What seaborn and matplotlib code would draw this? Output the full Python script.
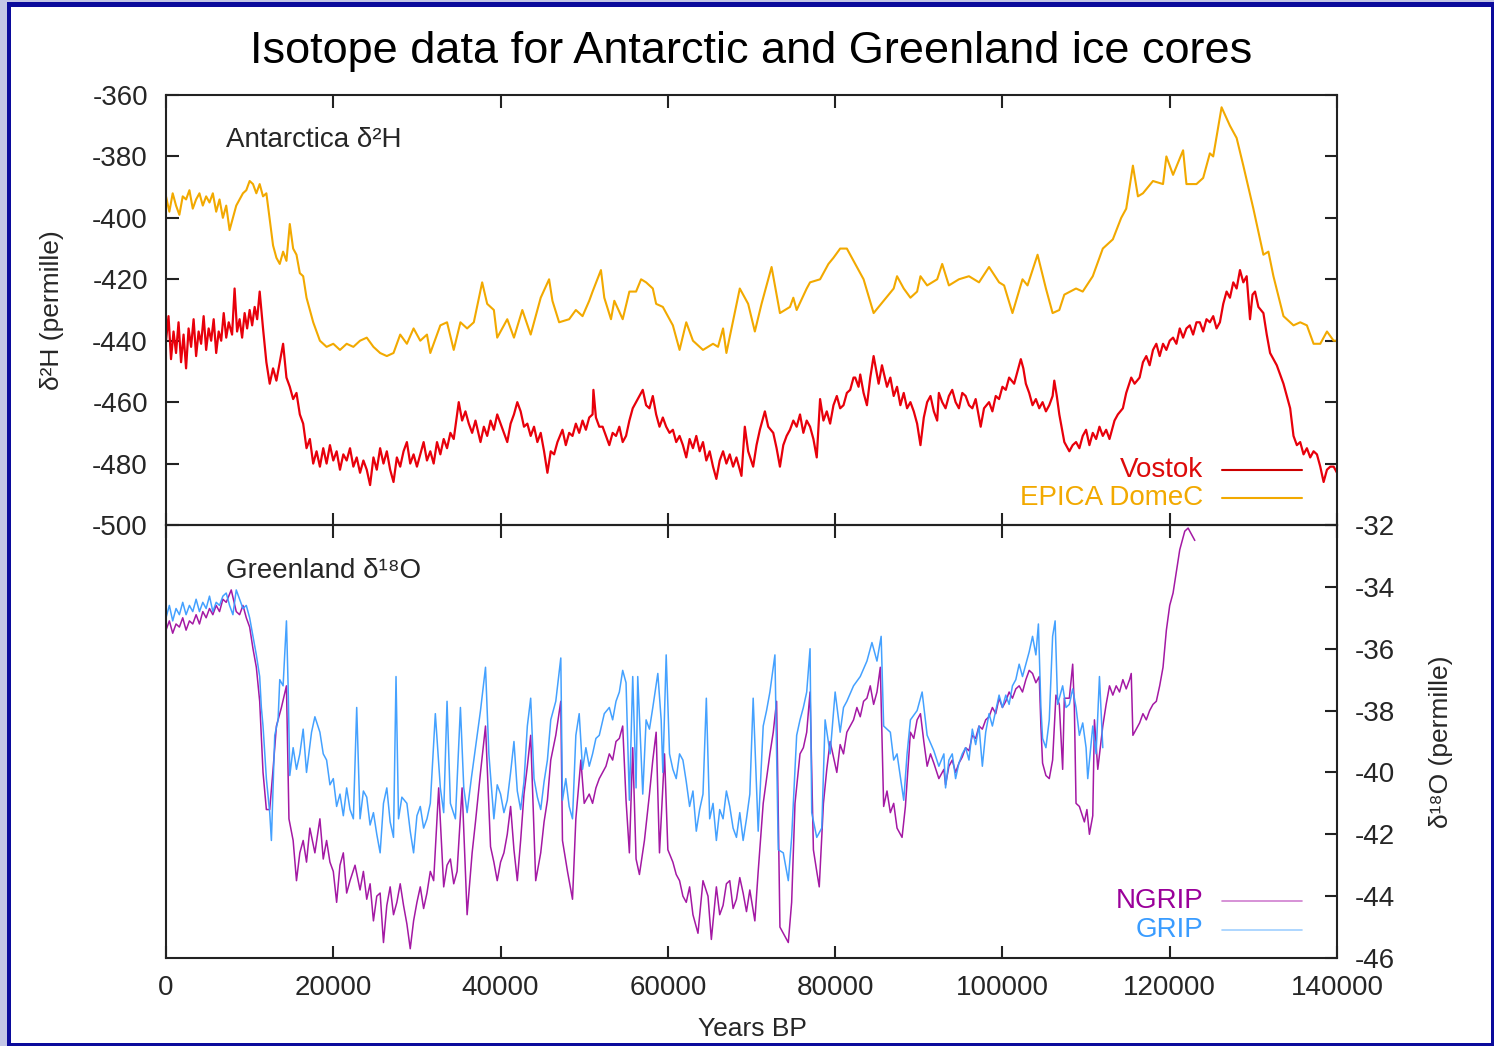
import matplotlib
matplotlib.use("Agg")
import matplotlib.pyplot as plt
from matplotlib.patches import Rectangle
from matplotlib.lines import Line2D
import seaborn as sns
import pandas as pd

# ---------------- data ----------------
epica_years = [0,400,800,1200,1600,2000,2400,2800,3200,3600,4000,4400,4800,5200,5600,6000,6400,6800,7200,7600,8000,8400,8800,9200,9600,10000,10400,10800,11200,11600,12000,12800,13200,13600,14000,14400,14800,15200,15600,16000,16400,16800,17600,18400,19200,20000,20800,21600,22400,23200,24000,24800,25600,26400,27200,28000,28800,29600,30400,31200,31600,32800,33600,34400,35200,36000,36800,37800,38400,39200,39600,40800,41600,42600,43600,44800,45800,46200,47000,48200,49000,49800,50600,51000,52000,52400,53200,53600,54600,55400,56200,56800,57400,58200,58600,59400,60600,61400,62200,63000,64200,65400,66000,66600,67000,68600,69600,70400,71200,72400,73400,74600,75000,75400,76600,77000,78200,79200,79800,80600,81400,82600,83400,84600,85800,87000,87400,88200,89000,89800,90200,91000,92200,92800,93600,94800,96000,97200,98400,99600,100200,101200,102400,103000,104200,105200,106000,106800,107400,108800,109600,110800,112000,113200,114200,114800,115200,115600,116200,116800,118000,119200,119600,120400,121600,122000,123200,124000,124800,125200,126200,127200,128000,128800,130000,131200,131800,132400,133600,134800,135600,136400,137200,138000,138800,139600,140000]
epica_vals = [-393,-398,-392,-396,-399,-393,-394,-391,-397,-394,-392,-396,-393,-395,-392,-398,-394,-400,-396,-404,-400,-396,-394,-392,-391,-388,-389,-392,-389,-393,-392,-409,-413,-415,-411,-414,-402,-410,-412,-418,-419,-426,-434,-440,-442,-441,-443,-441,-442,-440,-439,-442,-444,-445,-444,-438,-441,-436,-440,-438,-444,-435,-434,-443,-434,-436,-434,-421,-428,-430,-439,-433,-439,-430,-438,-426,-420,-427,-434,-433,-430,-432,-427,-424,-417,-426,-433,-427,-433,-424,-424,-420,-421,-423,-428,-429,-435,-443,-434,-440,-443,-441,-442,-436,-444,-423,-428,-437,-428,-416,-431,-429,-426,-430,-423,-421,-420,-415,-413,-410,-410,-416,-420,-431,-427,-423,-419,-423,-426,-424,-419,-422,-420,-415,-422,-420,-419,-421,-416,-421,-422,-431,-420,-422,-412,-423,-431,-430,-425,-423,-424,-419,-410,-407,-400,-397,-390,-383,-393,-392,-388,-389,-380,-386,-378,-389,-389,-387,-379,-380,-364,-370,-374,-383,-397,-412,-411,-419,-432,-435,-434,-435,-441,-441,-437,-440,-440]

vostok_years = [0,300,600,900,1200,1500,1800,2100,2400,2700,3000,3300,3600,3900,4200,4500,4800,5100,5400,5700,6000,6300,6600,6900,7200,7500,7900,8200,8500,8800,9100,9400,9700,10000,10300,10600,10900,11200,11600,12000,12400,12800,13200,13600,14000,14400,14800,15200,15600,16000,16400,16800,17200,17600,18000,18400,18800,19200,19600,20000,20400,20800,21200,21600,22000,22400,22800,23200,23600,24000,24400,24800,25200,25600,26000,26400,26800,27200,27600,28000,28400,28800,29200,29600,30000,30400,30800,31200,31600,32000,32400,32800,33200,33600,34000,34400,35000,35400,35800,36200,36600,37000,37600,38000,38400,38800,39200,39600,40000,40400,40800,41200,41600,42000,42400,42800,43200,43600,44000,44400,44800,45200,45600,46000,46400,46800,47400,47800,48200,48600,49000,49400,49800,50200,50600,51000,51100,51400,51800,52200,52600,53000,53400,53800,54200,54600,55000,55400,55800,56200,56600,57000,57400,57800,58200,58600,59000,59400,59800,60200,60600,61000,61400,61800,62200,62600,63000,63400,63800,64200,64600,65000,65400,65800,66200,66600,67000,67400,67800,68200,68800,69200,69600,70200,70600,71000,71600,72000,72600,73000,73400,73800,74200,74600,75000,75400,75800,76200,76600,77000,77400,77800,78200,78600,79000,79400,79800,80200,80600,81000,81400,81800,82200,82400,82800,83000,83400,83800,84200,84600,85000,85200,85600,86200,86600,87000,87400,87800,88200,88600,89000,89400,89800,90200,90600,91000,91400,91800,92200,92400,92800,93200,93600,94000,94400,94800,95200,95600,96000,96400,96800,97400,97800,98400,98800,99200,99600,100000,100400,100800,101400,101800,102200,102500,102800,103200,103600,104000,104400,104800,105200,105600,106000,106200,106500,106800,107400,108000,108400,108800,109200,109600,110000,110400,110800,111200,111600,112000,112400,112800,113400,113800,114400,114800,115400,115800,116400,116800,117200,117600,118000,118400,118800,119200,119600,120000,120400,120800,121200,121600,122000,122400,122800,123200,123600,124000,124400,124800,125200,125600,126000,126400,126800,127200,127600,128000,128400,128800,129200,129600,129900,130200,130600,131200,131600,132000,132400,132800,133200,133600,134000,134400,134800,135200,135600,136000,136400,136800,137200,137600,138000,138400,138800,139200,139600,140000]
vostok_vals = [-440,-432,-446,-437,-444,-434,-447,-438,-449,-436,-442,-433,-445,-437,-441,-432,-443,-436,-440,-433,-444,-437,-440,-431,-439,-434,-438,-423,-437,-433,-439,-431,-436,-430,-435,-429,-433,-424,-436,-447,-454,-449,-453,-447,-441,-452,-455,-459,-457,-464,-467,-475,-472,-480,-476,-481,-475,-480,-474,-479,-476,-482,-477,-479,-475,-481,-478,-483,-479,-482,-487,-478,-482,-475,-480,-476,-482,-486,-478,-481,-476,-473,-480,-477,-481,-477,-473,-479,-476,-480,-473,-477,-472,-475,-470,-472,-460,-466,-463,-467,-470,-466,-473,-468,-471,-466,-469,-464,-467,-470,-473,-467,-464,-460,-463,-468,-467,-471,-468,-473,-470,-476,-483,-476,-477,-473,-469,-474,-470,-471,-467,-470,-466,-469,-465,-464,-456,-465,-468,-468,-471,-474,-470,-471,-468,-473,-471,-466,-462,-460,-458,-456,-461,-462,-458,-464,-468,-465,-468,-470,-469,-473,-471,-474,-478,-472,-475,-471,-476,-473,-479,-476,-481,-485,-479,-476,-480,-477,-481,-478,-484,-468,-476,-481,-474,-469,-463,-468,-470,-475,-481,-474,-471,-469,-466,-468,-464,-470,-466,-468,-472,-478,-459,-466,-463,-467,-461,-458,-462,-461,-457,-456,-452,-452,-455,-451,-457,-461,-452,-445,-451,-454,-448,-455,-452,-458,-455,-461,-457,-462,-460,-463,-467,-474,-465,-460,-458,-463,-466,-457,-460,-462,-458,-456,-460,-462,-457,-458,-461,-462,-459,-468,-462,-460,-463,-458,-459,-455,-456,-452,-454,-450,-446,-449,-454,-457,-461,-459,-462,-460,-463,-461,-458,-453,-458,-464,-473,-476,-474,-473,-475,-471,-469,-474,-470,-472,-468,-471,-469,-472,-466,-464,-462,-457,-452,-454,-452,-447,-445,-448,-443,-441,-445,-441,-443,-440,-439,-441,-436,-439,-436,-435,-438,-434,-434,-437,-433,-434,-432,-436,-434,-428,-424,-426,-421,-423,-417,-421,-419,-433,-425,-424,-429,-431,-438,-444,-446,-448,-451,-454,-458,-462,-471,-474,-473,-477,-475,-478,-476,-477,-481,-486,-482,-481,-481,-483]

grip_years = [0,400,800,1200,1600,2000,2400,2800,3200,3600,4000,4400,4800,5200,5600,6000,6400,6800,7200,7600,8000,8400,8800,9200,9600,10000,10400,10800,11200,11400,11600,12000,12400,12600,13000,13400,13600,14000,14400,14600,14800,15200,15600,16000,16400,16800,17400,17800,18400,18800,19200,19600,20000,20400,20800,21200,21600,22000,22400,22800,23200,23600,24000,24400,24800,25200,25600,26000,26400,26800,27200,27500,27800,28200,28800,29200,29600,30000,30400,30800,31200,31600,32200,32800,33200,33600,34000,34600,35200,35600,36000,36500,37000,37600,38200,38600,39200,39600,40000,40400,40800,41200,41600,42000,42400,42800,43200,43600,44000,44400,44800,45200,45600,46000,46600,47200,47400,47800,48200,48600,49000,49400,49800,50200,50600,51000,51400,51800,52400,53000,53400,53800,54200,54600,55000,55400,55800,56200,56400,57000,57400,57800,58200,58800,59200,59400,59800,60200,60600,61000,61400,61800,62200,62600,63000,63400,63800,64200,64600,65000,65400,65800,66200,66600,67000,67400,67800,68200,68600,69000,69400,69800,70200,70800,71400,71800,72200,72800,73200,73800,74400,74800,75400,75800,76200,76600,77000,77200,77800,78400,78800,79400,80000,80600,81000,81400,82200,83000,83800,84400,85000,85500,85800,86600,87000,87400,88200,88600,89000,89800,90400,91000,91800,92400,93000,93200,93600,94000,94400,94800,95200,95600,96000,96400,96800,97200,97600,98000,98400,98800,99200,99600,100000,100400,100800,101200,101600,102000,102400,102800,103200,103600,104000,104300,104600,104800,105200,105600,106000,106300,106600,107200,107600,108000,108400,108800,109200,109600,110000,110200,110800,111200,111600,112000]
grip_vals = [-35.0,-34.6,-35.1,-34.7,-34.9,-34.5,-34.9,-34.6,-34.8,-34.4,-34.8,-34.5,-34.7,-34.3,-34.8,-34.5,-34.6,-34.3,-34.2,-34.6,-34.9,-34.1,-34.4,-34.7,-34.6,-35.0,-35.6,-36.2,-36.9,-37.9,-38.5,-40.2,-41.3,-42.2,-38.8,-38.3,-37.0,-37.2,-35.1,-37.2,-40.1,-39.2,-39.9,-39.4,-38.6,-40.0,-38.7,-38.2,-38.7,-39.4,-39.6,-40.4,-40.2,-41.1,-40.7,-41.4,-40.5,-41.2,-41.5,-37.9,-41.5,-40.6,-40.8,-41.7,-41.3,-42.0,-42.6,-41.0,-40.5,-41.6,-42.1,-36.9,-41.5,-40.8,-41.0,-41.9,-42.6,-41.4,-41.1,-41.8,-41.5,-41.0,-38.1,-40.5,-41.3,-37.7,-41.0,-41.5,-37.9,-40.5,-41.3,-40.2,-39.2,-38.0,-36.6,-39.4,-41.5,-40.4,-40.7,-41.3,-40.9,-40.0,-39.0,-40.6,-41.2,-40.3,-38.5,-37.6,-40.2,-40.8,-41.2,-40.3,-39.6,-38.3,-37.7,-36.3,-40.9,-40.2,-41.1,-41.5,-38.8,-38.1,-39.9,-39.2,-39.8,-39.4,-38.9,-38.8,-38.1,-37.9,-38.3,-37.7,-37.4,-36.7,-37.1,-40.9,-36.9,-40.5,-36.9,-40.7,-38.3,-38.6,-37.9,-36.8,-38.3,-40.0,-36.2,-39.4,-39.9,-40.2,-39.4,-39.6,-40.3,-41.1,-40.6,-41.9,-41.2,-40.7,-37.6,-41.5,-41.0,-42.2,-41.2,-41.5,-40.6,-41.1,-41.8,-42.1,-41.3,-42.2,-41.5,-40.7,-37.6,-41.9,-38.5,-38.0,-37.4,-36.2,-42.5,-42.6,-43.5,-42.1,-38.8,-38.3,-37.9,-37.4,-36.0,-41.3,-42.1,-41.8,-38.3,-39.4,-37.4,-38.7,-37.9,-37.7,-37.2,-36.9,-36.4,-35.8,-36.4,-35.6,-38.5,-38.7,-39.6,-39.4,-40.9,-39.4,-38.3,-38.0,-37.4,-38.8,-39.3,-39.8,-39.4,-40.5,-39.6,-39.4,-40.2,-39.7,-39.4,-39.2,-39.6,-38.6,-39.1,-38.5,-39.8,-38.7,-38.1,-38.5,-38.0,-37.5,-37.9,-37.5,-37.8,-37.2,-37.0,-36.5,-36.9,-36.5,-36.1,-35.6,-36.2,-35.2,-37.9,-38.9,-39.2,-38.3,-35.6,-35.1,-37.8,-37.2,-37.9,-37.8,-37.3,-37.9,-38.8,-38.4,-39.2,-40.2,-38.5,-39.4,-36.9,-39.2]

ngrip_years = [0,400,800,1200,1600,2000,2400,2800,3200,3600,4000,4400,4800,5200,5600,6000,6400,6800,7200,7800,8400,8800,9200,9600,10000,10400,10800,11200,11600,12000,12400,12800,13200,13800,14400,14700,15200,15600,16000,16400,16800,17200,17800,18400,18800,19200,19600,20000,20400,20800,21200,21600,22000,22600,23200,23600,24000,24400,24800,25200,25600,26000,26400,26800,27200,27600,28000,28400,28800,29200,29600,30000,30400,30800,31200,31600,32000,32600,33200,33600,34000,34400,34800,35400,36000,36600,37000,37600,38200,38800,39200,39600,40000,40400,40800,41200,41600,42000,42400,42800,43200,43600,44200,44800,45200,45600,46000,46600,47200,47400,48000,48600,49000,49600,50000,50600,51000,51400,51800,52200,52600,53000,53400,53800,54200,54600,55000,55400,55800,56200,56600,57200,57800,58200,58600,59000,59600,60000,60600,61000,61400,61800,62200,62600,63000,63600,64200,64800,65200,65800,66200,66600,67000,67400,67800,68200,68600,69000,69400,69800,70400,70800,71400,71800,72200,72600,73000,73400,74000,74400,74800,75200,75800,76200,76600,77000,77400,77800,78100,78600,79000,79400,80200,80600,81000,81400,81800,82200,82600,83000,83400,83800,84200,84600,85000,85400,85800,86200,86600,87000,87400,88000,88400,89000,89400,89800,90200,90600,91000,91400,91800,92400,93000,93200,93600,94000,94400,94800,95200,95600,96000,96400,96800,97200,97600,98000,98400,98800,99200,99600,100000,100400,100800,101200,101600,102000,102400,102800,103200,103600,104000,104400,104600,104800,105200,105600,106000,106400,106800,107200,107400,108000,108400,108600,108800,109200,109800,110100,110400,110800,111000,111400,112000,112400,112800,113200,113600,114000,114400,114800,115200,115400,115600,116000,116400,116800,117200,117600,118000,118400,118800,119200,119600,120000,120400,120800,121200,121800,122200,122600,123000]
ngrip_vals = [-35.4,-35.1,-35.5,-35.2,-35.3,-35.0,-35.4,-35.1,-35.2,-34.9,-35.2,-34.8,-35.0,-34.7,-34.9,-34.6,-34.8,-34.4,-34.5,-34.1,-34.8,-34.9,-34.6,-35.0,-35.3,-36.0,-36.6,-37.7,-40.0,-41.2,-41.2,-39.9,-38.5,-37.9,-37.2,-41.5,-42.2,-43.5,-42.6,-42.2,-42.9,-41.8,-42.6,-41.5,-42.8,-42.2,-42.9,-43.2,-44.2,-43.0,-42.6,-43.9,-43.5,-43.0,-43.8,-43.2,-44.1,-43.6,-44.8,-44.0,-43.9,-45.5,-44.3,-43.7,-44.6,-44.2,-43.6,-44.3,-44.9,-45.7,-44.8,-44.2,-43.7,-44.4,-43.9,-43.2,-43.5,-40.5,-43.7,-43.0,-42.8,-43.6,-43.2,-40.5,-44.6,-42.6,-41.6,-40.0,-38.5,-42.4,-42.9,-43.5,-42.9,-42.6,-42.0,-41.1,-42.5,-43.5,-42.2,-40.7,-39.8,-38.8,-43.5,-42.6,-41.6,-40.9,-39.6,-38.8,-37.7,-42.2,-43.2,-44.1,-41.5,-39.6,-41.0,-40.7,-41.0,-40.5,-40.2,-40.0,-39.8,-39.4,-39.6,-39.0,-38.9,-38.5,-40.9,-42.6,-39.2,-42.8,-43.3,-42.2,-40.7,-39.6,-38.7,-42.6,-39.4,-42.5,-42.9,-43.3,-43.5,-44.0,-44.2,-43.7,-44.6,-45.2,-43.5,-44.0,-45.4,-43.7,-44.6,-44.3,-43.6,-43.5,-44.4,-44.1,-43.4,-43.9,-44.5,-43.8,-44.8,-43.2,-41.0,-40.2,-39.4,-38.7,-37.7,-45.0,-45.3,-45.5,-44.2,-41.0,-39.4,-39.2,-38.7,-37.4,-42.5,-43.2,-43.7,-41.0,-39.9,-39.0,-40.0,-39.1,-39.4,-38.7,-38.5,-38.3,-37.9,-38.2,-37.7,-37.6,-37.2,-37.8,-37.4,-36.6,-41.1,-40.6,-41.3,-41.0,-41.8,-42.1,-41.1,-38.7,-38.9,-38.3,-38.1,-39.0,-39.8,-39.4,-39.7,-40.2,-39.9,-40.4,-39.8,-39.6,-40.0,-39.7,-39.5,-39.2,-39.3,-38.8,-38.9,-38.5,-38.6,-38.3,-38.2,-37.9,-38.1,-37.6,-37.9,-37.7,-37.4,-37.6,-37.3,-37.2,-37.4,-37.0,-36.7,-36.8,-37.1,-36.9,-38.5,-39.7,-40.1,-40.2,-39.6,-37.5,-37.8,-39.9,-37.6,-37.6,-36.5,-37.9,-41.0,-41.1,-41.6,-41.2,-42.0,-41.4,-38.3,-39.9,-38.5,-37.8,-37.2,-37.5,-37.2,-37.4,-37.0,-37.3,-37.0,-36.8,-38.8,-38.6,-38.4,-38.1,-38.3,-38.0,-37.8,-37.7,-37.2,-36.6,-35.4,-34.6,-34.2,-33.5,-32.8,-32.2,-32.1,-32.3,-32.5]

x_ticks = [0, 20000, 40000, 60000, 80000, 100000, 120000, 140000]
x_tick_labels = ["0", "20000", "40000", "60000", "80000", "100000", "120000", "140000"]
top_y_ticks = [-360, -380, -400, -420, -440, -460, -480, -500]
bottom_y_ticks = [-32, -34, -36, -38, -40, -42, -44, -46]

# ---------------- styling ----------------
sns.set_theme(style="ticks")
plt.rcParams["font.family"] = ["Liberation Sans", "DejaVu Sans"]

C_VOSTOK = "#e8000b"
C_EPICA = "#f2a900"
C_NGRIP = "#9a009a"
C_GRIP = "#3a9cff"

W, H = 1494, 1046
fig = plt.figure(figsize=(W / 100, H / 100), dpi=100)
fig.patch.set_facecolor("#c3c6e6")
fig.add_artist(Rectangle((7 / W, 0), (W - 7) / W, (H - 2) / H,
                         transform=fig.transFigure, facecolor="#0b0b9c",
                         edgecolor="none", zorder=-20))
fig.add_artist(Rectangle((11 / W, 3 / H), 1480 / W, (H - 10) / H,
                         transform=fig.transFigure, facecolor="white",
                         edgecolor="none", zorder=-19))

L, R = 166 / W, 1337 / W
ax1 = fig.add_axes([L, 1 - 525 / H, R - L, 430 / H])
ax2 = fig.add_axes([L, 1 - 958 / H, R - L, 433 / H])

df_ep = pd.DataFrame({"year": epica_years, "val": epica_vals})
df_vo = pd.DataFrame({"year": vostok_years, "val": vostok_vals})
df_gr = pd.DataFrame({"year": grip_years, "val": grip_vals})
df_ng = pd.DataFrame({"year": ngrip_years, "val": ngrip_vals})

sns.lineplot(data=df_ep, x="year", y="val", ax=ax1, color=C_EPICA,
             lw=1.5, estimator=None)
sns.lineplot(data=df_vo, x="year", y="val", ax=ax1, color=C_VOSTOK,
             lw=1.6, estimator=None)
sns.lineplot(data=df_ng, x="year", y="val", ax=ax2, color=C_NGRIP,
             lw=1.1, estimator=None, alpha=0.9)
sns.lineplot(data=df_gr, x="year", y="val", ax=ax2, color=C_GRIP,
             lw=1.1, estimator=None, alpha=0.95)

for ax in (ax1, ax2):
    ax.set_facecolor("none")
    ax.set_xlim(0, 140000)
    ax.set_xticks(x_ticks)
    ax.set_xlabel("")
    ax.set_ylabel("")
    for s in ax.spines.values():
        s.set_visible(True)
        s.set_color("#222222")
        s.set_linewidth(1.5)

ax1.set_ylim(-500, -360)
ax1.set_yticks(top_y_ticks)
ax1.set_yticklabels([str(v) for v in top_y_ticks])
ax1.tick_params(axis="x", which="both", direction="in", length=9, width=1.5,
                top=True, bottom=True, labelbottom=False, color="#222222")
ax1.tick_params(axis="y", direction="in", length=9, width=1.5, left=True,
                right=True, labelleft=True, labelright=False,
                labelsize=20, pad=13, color="#222222")

ax2.set_ylim(-46, -32)
ax2.set_yticks(bottom_y_ticks)
ax2.set_yticklabels([str(v) for v in bottom_y_ticks])
ax2.set_xticklabels(x_tick_labels)
ax2.tick_params(axis="x", direction="in", length=9, width=1.5, top=True,
                bottom=True, labelbottom=True, labelsize=20, pad=12,
                color="#222222")
ax2.tick_params(axis="y", direction="in", length=9, width=1.5, left=False,
                right=True, labelleft=False, labelright=True, labelsize=20,
                pad=13, color="#222222")

# titles / labels
fig.text(751 / W, 1 - 52 / H, "Isotope data for Antarctic and Greenland ice cores",
         ha="center", va="center", fontsize=32.5, color="black")
fig.text(52 / W, 1 - 310 / H, "δ²H (permille)", rotation=90, ha="center",
         va="center", fontsize=19)
fig.text(1441 / W, 1 - 742 / H, "δ¹⁸O (permille)", rotation=90, ha="center",
         va="center", fontsize=19)
fig.text(752 / W, 1 - 1029 / H, "Years BP", ha="center", va="center",
         fontsize=19)

ax1.text(0.0512, 0.895, "Antarctica δ²H", transform=ax1.transAxes,
         ha="left", va="center", fontsize=20)
ax2.text(0.0512, 0.894, "Greenland δ¹⁸O", transform=ax2.transAxes,
         ha="left", va="center", fontsize=20)

# legends (text right-aligned, key line after)
def legend_entry(ax, y, label, tcolor, lcolor, lw):
    ax.text(0.8856, y, label, transform=ax.transAxes, ha="right",
            va="center", fontsize=20, color=tcolor)
    ax.add_line(Line2D([0.9018, 0.9701], [y, y], transform=ax.transAxes,
                       color=lcolor, lw=lw))

legend_entry(ax1, 0.128, "Vostok", "#dd0a0a", "#cc0000", 1.5)
legend_entry(ax1, 0.063, "EPICA DomeC", C_EPICA, C_EPICA, 1.5)
legend_entry(ax2, 0.1316, "NGRIP", C_NGRIP, "#cf7fcf", 1.2)
legend_entry(ax2, 0.0647, "GRIP", C_GRIP, "#9fd0ff", 1.2)

fig.savefig("out.png", dpi=100, facecolor=fig.get_facecolor())
